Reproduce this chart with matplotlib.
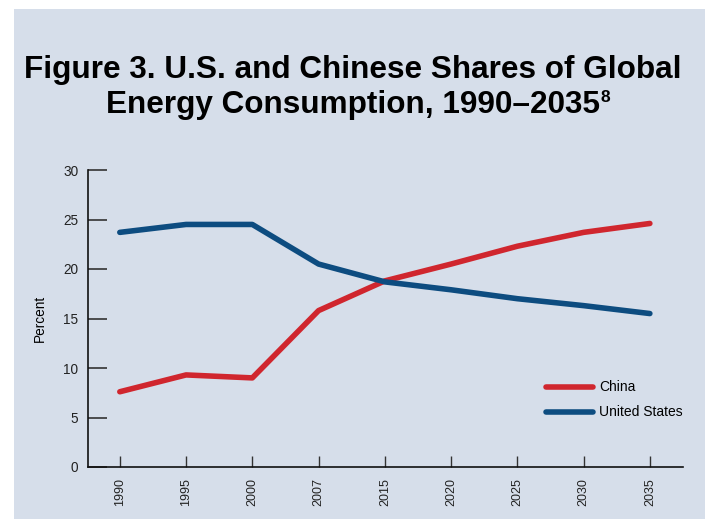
import matplotlib.pyplot as plt
from matplotlib.patches import Rectangle

# data
years = ["1990", "1995", "2000", "2007", "2015", "2020", "2025", "2030", "2035"]
china = [7.6, 9.3, 9.0, 15.8, 18.8, 20.5, 22.3, 23.7, 24.6]
united_states = [23.7, 24.5, 24.5, 20.5, 18.7, 17.9, 17.0, 16.3, 15.5]
y_ticks = [0, 5, 10, 15, 20, 25, 30]
title_lines = ["Figure 3. U.S. and Chinese Shares of Global",
               "Energy Consumption, 1990\u20132035"]
footnote = "8"

BG = "#d6deea"
RED = "#d0262e"
BLUE = "#0d4c80"

plt.rcParams["font.family"] = ["Liberation Sans", "DejaVu Sans"]

W, H = 705, 519
fig = plt.figure(figsize=(W / 100, H / 100), dpi=100)
fig.patch.set_facecolor("white")
# light blue panel behind everything
fig.patches.append(Rectangle((14 / W, 0), 1, 1 - 9 / H, transform=fig.transFigure,
                             facecolor=BG, edgecolor="none", zorder=-10))

ax = fig.add_axes([88 / W, 52 / H, (683 - 88) / W, (467 - 170) / H])
ax.set_facecolor(BG)
x = range(len(years))
ax.plot(x, china, color=RED, linewidth=4, solid_capstyle="round", label="China")
ax.plot(x, united_states, color=BLUE, linewidth=4, solid_capstyle="round", label="United States")

ax.set_xlim(-0.48, 8.5)
ax.set_ylim(0, 30)
ax.set_xticks(list(x))
ax.set_xticklabels(years, rotation=90, fontsize=9, color="#222222")
ax.set_yticks(y_ticks)
ax.set_yticklabels([str(v) for v in y_ticks], fontsize=9.8, color="#222222")
ax.tick_params(axis="y", direction="in", length=14, width=1.2, color="#333333", pad=7)
ax.tick_params(axis="x", direction="in", length=8, width=1, color="#333333", pad=8)
for side in ["top", "right"]:
    ax.spines[side].set_visible(False)
for side in ["left", "bottom"]:
    ax.spines[side].set_linewidth(1.2)
    ax.spines[side].set_color("#111111")
ax.set_ylabel("Percent", fontsize=9.8, labelpad=12)

ax.legend(loc="lower right", bbox_to_anchor=(1.0, 0.16), frameon=False, fontsize=10,
          handlelength=3.4, handletextpad=0.45, labelspacing=0.8,
          borderpad=0, borderaxespad=0)

# title: shrink so the first line is as wide as in the reference (~656 px)
t1 = fig.text(0.5, 1 - 70 / H, title_lines[0], ha="center", va="center",
              fontsize=25, fontweight="bold")
fig.canvas.draw()
r = fig.canvas.get_renderer()
size = 25 * 656 / t1.get_window_extent(r).width
t1.set_fontsize(size)
t2 = fig.text(0.5, 1 - 105 / H, title_lines[1], ha="center", va="center",
              fontsize=size, fontweight="bold")
fig.canvas.draw()
bb = t2.get_window_extent(r)
fig.text((bb.x1 + 1) / W, bb.y1 / H, footnote, ha="left", va="top",
         fontsize=size * 0.55, fontweight="bold")

fig.savefig("out.png", dpi=100, facecolor=fig.get_facecolor())
